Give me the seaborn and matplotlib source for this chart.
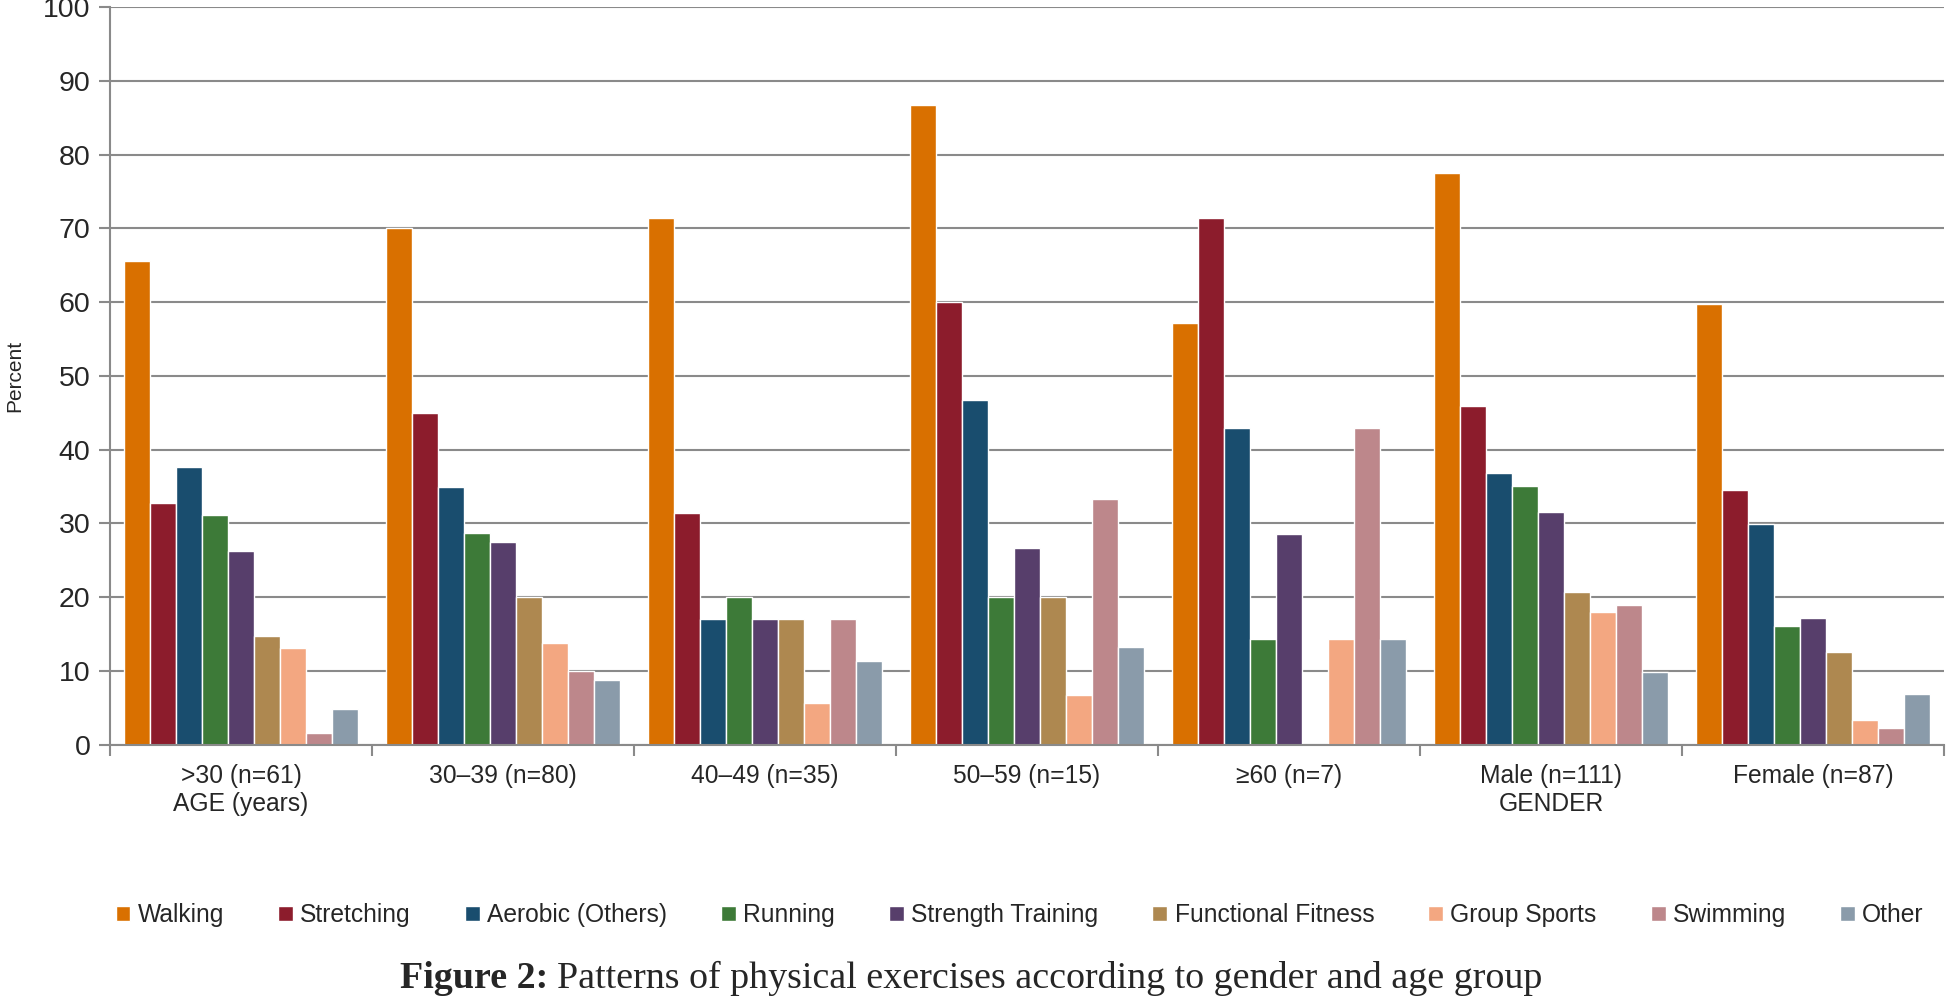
import numpy as np
import pandas as pd
import matplotlib
matplotlib.use("Agg")
import matplotlib.pyplot as plt
import seaborn as sns

# ── Data ────────────────────────────────────────────────────────────────────
groups = [">30 (n=61)\nAGE (years)", "30–39 (n=80)", "40–49 (n=35)", "50–59 (n=15)",
          "≥60 (n=7)", "Male (n=111)\nGENDER", "Female (n=87)"]
exercises = ["Walking", "Stretching", "Aerobic (Others)", "Running", "Strength Training",
             "Functional Fitness", "Group Sports", "Swimming", "Other"]

walking    = [65.6, 70.0, 71.4, 86.7, 57.1, 77.5, 59.8]
stretching = [32.8, 45.0, 31.4, 60.0, 71.4, 45.9, 34.5]
aerobic    = [37.7, 35.0, 17.1, 46.7, 42.9, 36.9, 29.9]
running    = [31.1, 28.75, 20.0, 20.0, 14.3, 35.1, 16.1]
strength   = [26.2, 27.5, 17.1, 26.7, 28.6, 31.5, 17.2]
functional = [14.8, 20.0, 17.1, 20.0, 0.0, 20.7, 12.6]
group_spt  = [13.1, 13.75, 5.7, 6.7, 14.3, 18.0, 3.4]
swimming   = [1.6, 10.0, 17.1, 33.3, 42.9, 18.9, 2.3]
other      = [4.9, 8.75, 11.4, 13.3, 14.3, 9.9, 6.9]

series = [walking, stretching, aerobic, running, strength,
          functional, group_spt, swimming, other]

COLORS = ["#D97000", "#8C1C2C", "#194D6E", "#3D7A38", "#573E6B",
          "#AE8850", "#F3A781", "#BD878B", "#8A9BAA"]

df = pd.DataFrame(
    [(g, e, v) for e, vals in zip(exercises, series) for g, v in zip(groups, vals)],
    columns=["group", "exercise", "percent"],
)

# ── Figure ──────────────────────────────────────────────────────────────────
sns.set_theme(style="white")
plt.rcParams["font.family"] = ["Liberation Sans", "DejaVu Sans"]

GRID = "#8A8A8A"
FS = 17.7

fig = plt.figure(figsize=(19.46, 9.97), dpi=100)
ax = fig.add_axes([0.0565, 0.253, 0.9425, 0.740])

sns.barplot(data=df, x="group", y="percent", hue="exercise", order=groups,
            hue_order=exercises, palette=COLORS, saturation=1, width=0.89,
            ax=ax, legend=True)

ax.set_ylim(0, 100)
ax.set_xlim(-0.5, len(groups) - 0.5)
ax.set_yticks(range(0, 101, 10))
ax.yaxis.grid(True, color=GRID, linewidth=1.5)
ax.set_axisbelow(True)

for s in ["top", "right"]:
    ax.spines[s].set_visible(False)
for s in ["left", "bottom"]:
    ax.spines[s].set_color(GRID)
    ax.spines[s].set_linewidth(1.5)

ax.set_xlabel("")
ax.set_ylabel("Percent", fontsize=15)
ax.yaxis.set_label_coords(-0.0465, 0.5)
ax.tick_params(axis="y", which="major", length=8, width=1.5, color=GRID,
               labelsize=20.5, left=True, pad=6)
ax.tick_params(axis="x", which="major", length=0, labelsize=FS, pad=14)
ax.set_xticks(np.arange(-0.5, len(groups)), minor=True)
ax.tick_params(axis="x", which="minor", length=8, width=1.5, color=GRID, bottom=True)

handles, labels = ax.get_legend_handles_labels()
ax.get_legend().remove()
fig.legend(handles, labels, loc="center", bbox_to_anchor=(0.524, 0.082),
           ncol=9, frameon=False, fontsize=FS, handlelength=0.6,
           handleheight=0.6, handletextpad=0.3, columnspacing=2.2)

# caption with bold prefix
renderer = fig.canvas.get_renderer()
cap_y = 0.009
t1 = fig.text(0.2055, cap_y, "Figure 2:", fontsize=27.4, fontweight="bold",
              family="Liberation Serif", ha="left", va="baseline")
bb = t1.get_window_extent(renderer=renderer)
x2 = (bb.x1 + 9) / fig.bbox.width
fig.text(x2, cap_y, "Patterns of physical exercises according to gender and age group",
         fontsize=27.4, family="Liberation Serif", ha="left", va="baseline")

fig.savefig("out.png", dpi=100)
